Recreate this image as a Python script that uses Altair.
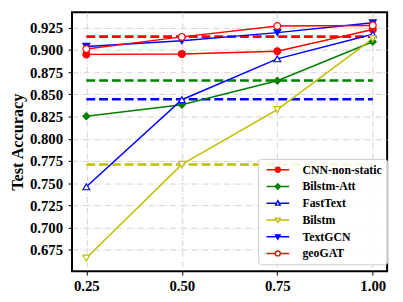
import altair as alt
import pandas as pd

fractions = [0.25, 0.50, 0.75, 1.00]
series_names = ["CNN-non-static", "Bilstm-Att", "FastText", "Bilstm", "TextGCN", "geoGAT"]
cnn = [0.895, 0.8955, 0.8985, 0.923]
bilstm_att = [0.8254, 0.8384, 0.8653, 0.9092]
fasttext = [0.746, 0.844, 0.890, 0.9176]
bilstm = [0.6658, 0.7712, 0.8329, 0.9128]
textgcn = [0.904, 0.9103, 0.9195, 0.9305]
geogat = [0.901, 0.9147, 0.9269, 0.9276]
baseline_values = [0.915, 0.8656, 0.8446, 0.771]
baseline_colors = ["#ff0000", "#008000", "#0000ff", "#bfbf00"]
line_colors = ["#ff0000", "#008000", "#0000ff", "#bfbf00", "#0000ff", "#ff0000"]
fill_colors = ["#ff0000", "#008000", "#ffffff", "#ffffff", "#0000ff", "#ffffff"]
shapes = ["circle", "diamond", "triangle-up", "triangle-down", "triangle-down", "circle"]
y_ticks = [0.675, 0.700, 0.725, 0.750, 0.775, 0.800, 0.825, 0.850, 0.875, 0.900, 0.925]

all_series = [cnn, bilstm_att, fasttext, bilstm, textgcn, geogat]
rows = []
for i, (name, vals) in enumerate(zip(series_names, all_series)):
    for f, v in zip(fractions, vals):
        rows.append({"fraction": f, "acc": v, "series": name, "order": i})
df = pd.DataFrame(rows)

brows = []
for i, (v, c) in enumerate(zip(baseline_values, baseline_colors)):
    for f in (fractions[0], fractions[-1]):
        brows.append({"fraction": f, "acc": v, "color": c, "group": i})
bdf = pd.DataFrame(brows)

# legend symbol paths: line + marker (unit marker radius 1)
L = 4.6
leg_paths = {
    "circle": f"M-{L},0H-1M1,0H{L}M1,0A1,1,0,1,1,-1,0A1,1,0,1,1,1,0Z",
    "diamond": f"M-{L},0H-1.1M1.1,0H{L}M0,-1.1L1.1,0L0,1.1L-1.1,0Z",
    "triangle-up": f"M-{L},0H-0.55M0.55,0H{L}M0,-1.05L0.95,0.75L-0.95,0.75Z",
    "triangle-down": f"M-{L},0H-0.55M0.55,0H{L}M0,1.05L0.95,-0.75L-0.95,-0.75Z",
}
legend_shapes = [leg_paths[s] for s in shapes]

legend = alt.Legend(
    title=None,
    orient="none",
    legendX=189,
    legendY=149,
    fillColor="rgba(255,255,255,0.85)",
    strokeColor="#cccccc",
    cornerRadius=3,
    padding=5,
    rowPadding=5,
    symbolSize=25,
    symbolOffset=9,
    labelOffset=19,
    symbolStrokeWidth=1.4,
    symbolOpacity=1,
    labelFont="Liberation Serif",
    labelFontWeight="bold",
    labelFontSize=12,
    labelColor="#000000",
)

x_enc = alt.X("fraction:Q", scale=alt.Scale(domain=[0.2125, 1.0375], nice=False, zero=False),
              axis=alt.Axis(values=fractions, format=".2f", title=None))
y_enc = alt.Y("acc:Q", scale=alt.Scale(domain=[0.651, 0.9425], nice=False, zero=False),
              axis=alt.Axis(values=y_ticks, format=".3f", title="Test Accuracy"))

stroke_scale = alt.Scale(domain=series_names, range=line_colors)
fill_scale = alt.Scale(domain=series_names, range=fill_colors)
shape_scale = alt.Scale(domain=series_names, range=shapes)
legend_shape_scale = alt.Scale(domain=series_names, range=legend_shapes)

dashes = alt.Chart(bdf).mark_line(strokeWidth=2.6, strokeDash=[9, 4]).encode(
    x=x_enc, y=y_enc,
    stroke=alt.Stroke("color:N", scale=None),
    detail="group:N",
)

lines = alt.Chart(df).mark_line(strokeWidth=1.5).encode(
    x=x_enc, y=y_enc,
    stroke=alt.Stroke("series:N", scale=stroke_scale, legend=None),
    order="fraction:Q",
)

points = alt.Chart(df).mark_point(size=48, strokeWidth=1.2, opacity=1).encode(
    x=x_enc, y=y_enc,
    stroke=alt.Stroke("series:N", scale=stroke_scale, legend=None),
    fill=alt.Fill("series:N", scale=fill_scale, legend=None),
    shape=alt.Shape("series:N", scale=shape_scale, legend=None),
    order="order:Q",
)

# legend-only layer: its marks are filtered away, the legend keeps the full domain
legend_layer = alt.Chart(df).transform_filter("datum.acc < 0").mark_point(
    size=48, strokeWidth=1.2, opacity=1
).encode(
    x=x_enc, y=y_enc,
    stroke=alt.Stroke("series:N", scale=stroke_scale, legend=legend),
    fill=alt.Fill("series:N", scale=fill_scale, legend=legend),
    shape=alt.Shape("series:N", scale=legend_shape_scale, legend=legend),
)

chart = alt.layer(dashes, lines, points, legend_layer).resolve_scale(
    stroke="independent", fill="independent", shape="independent"
).properties(
    width=320, height=263,
    autosize=alt.AutoSizeParams(type="none"),
    padding={"left": 65, "top": 2, "right": 8, "bottom": 25},
).configure_view(
    stroke="#000000", strokeWidth=2,
).configure_axis(
    labelFont="Liberation Serif", labelFontWeight="bold", labelFontSize=15,
    labelColor="#000000",
    titleFont="Liberation Serif", titleFontWeight="bold", titleFontSize=16.5,
    titleColor="#000000",
    grid=True, gridColor="#c8c8c8", gridDash=[6, 2, 1, 2], gridWidth=0.8,
    domain=False, ticks=True, tickSize=4, tickColor="#000000", tickWidth=1,
    labelPadding=5,
).configure_axisY(titlePadding=4, labelPadding=5.5).configure_axisX(labelPadding=4)

chart.save("out.html", embed_options={"renderer": "svg", "actions": False})
